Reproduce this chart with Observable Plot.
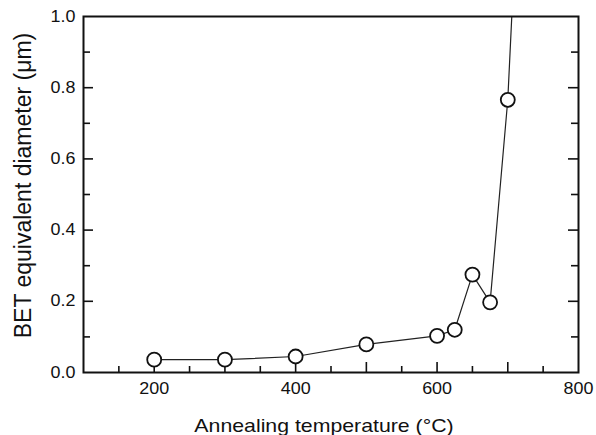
<!DOCTYPE html>
<html><head><meta charset="utf-8">
<script src="https://cdn.jsdelivr.net/npm/d3@7"></script>
<script src="https://cdn.jsdelivr.net/npm/@observablehq/plot@0.6"></script>
<style>
body{margin:0;background:#fff}
svg{font-family:"Liberation Sans",Arial,Helvetica,sans-serif}
</style>
</head><body><div id="chart"></div>
<script>
const temperature = [200, 300, 400, 500, 600, 625, 650, 675, 700, 725];
const diameter = [0.036, 0.036, 0.045, 0.079, 0.103, 0.12, 0.275, 0.197, 0.766, 1.8];
const xTickLabels = [200, 400, 600, 800];
const yTickLabels = [0, 0.2, 0.4, 0.6, 0.8, 1.0];
const xMajorTicks = [200, 300, 400, 500, 600, 700];
const xMinorTicks = [150, 250, 350, 450, 550, 650, 750];
const yMajorTicks = [0.2, 0.4, 0.6, 0.8];
const yMinorTicks = [0.1, 0.3, 0.5, 0.7, 0.9];
const xLabel = "Annealing temperature (°C)";
const yLabel = "BET equivalent diameter (μm)";

const data = temperature.map((t, i) => ({t, d: diameter[i]}));

const W = 596, H = 435, mL = 83, mR = 18, mT = 16, mB = 63;
const pw = W - mL - mR, ph = H - mT - mB;
const ink = "#111";

const chart = Plot.plot({
  width: W, height: H,
  marginLeft: mL, marginRight: mR, marginTop: mT, marginBottom: mB,
  x: {domain: [100, 800], axis: null},
  y: {domain: [0, 1], axis: null},
  marks: [
    Plot.axisX(xTickLabels, {anchor: "bottom", tickSize: 0, tickPadding: 10, fontSize: 16, fill: ink, label: null}),
    Plot.axisY(yTickLabels, {anchor: "left", tickSize: 0, tickPadding: 8, fontSize: 16, fill: ink, tickFormat: d3.format(".1f"), label: null}),
    Plot.tickX(xMajorTicks, {x: d => d, stroke: ink, strokeWidth: 1.6, insetTop: ph - 10}),
    Plot.tickX(xMinorTicks, {x: d => d, stroke: ink, strokeWidth: 1.6, insetTop: ph - 6}),
    Plot.tickY(yMajorTicks, {y: d => d, stroke: ink, strokeWidth: 1.6, insetRight: pw - 10}),
    Plot.tickY(yMinorTicks, {y: d => d, stroke: ink, strokeWidth: 1.6, insetRight: pw - 7}),
    Plot.tickY(yMajorTicks, {y: d => d, stroke: ink, strokeWidth: 1.6, insetLeft: pw - 10}),
    Plot.tickY(yMinorTicks, {y: d => d, stroke: ink, strokeWidth: 1.6, insetLeft: pw - 7}),
    Plot.line(data, {x: "t", y: "d", stroke: "#222", strokeWidth: 1.2, clip: true}),
    Plot.dot(data, {x: "t", y: "d", r: 7, fill: "white", stroke: ink, strokeWidth: 1.8, clip: true}),
    Plot.frame({stroke: ink, strokeWidth: 2}),
    Plot.text([xLabel], {frameAnchor: "bottom", lineAnchor: "bottom", dy: 59, dx: -7, fontSize: 19, fill: ink}),
    Plot.text([yLabel], {frameAnchor: "left", textAnchor: "middle", lineAnchor: "middle", rotate: -90, dx: -60, dy: -9, fontSize: 23, fill: ink})
  ]
});
document.getElementById("chart").appendChild(chart);

// reference glyphs appear horizontally stretched
chart.querySelectorAll("text").forEach(t => {
  if (t.closest('[transform*="rotate"]')) return;
  const len = t.getComputedTextLength();
  if (len > 0) {
    t.setAttribute("textLength", (len * 1.12).toFixed(1));
    t.setAttribute("lengthAdjust", "spacingAndGlyphs");
  }
});
</script>
</body></html>
